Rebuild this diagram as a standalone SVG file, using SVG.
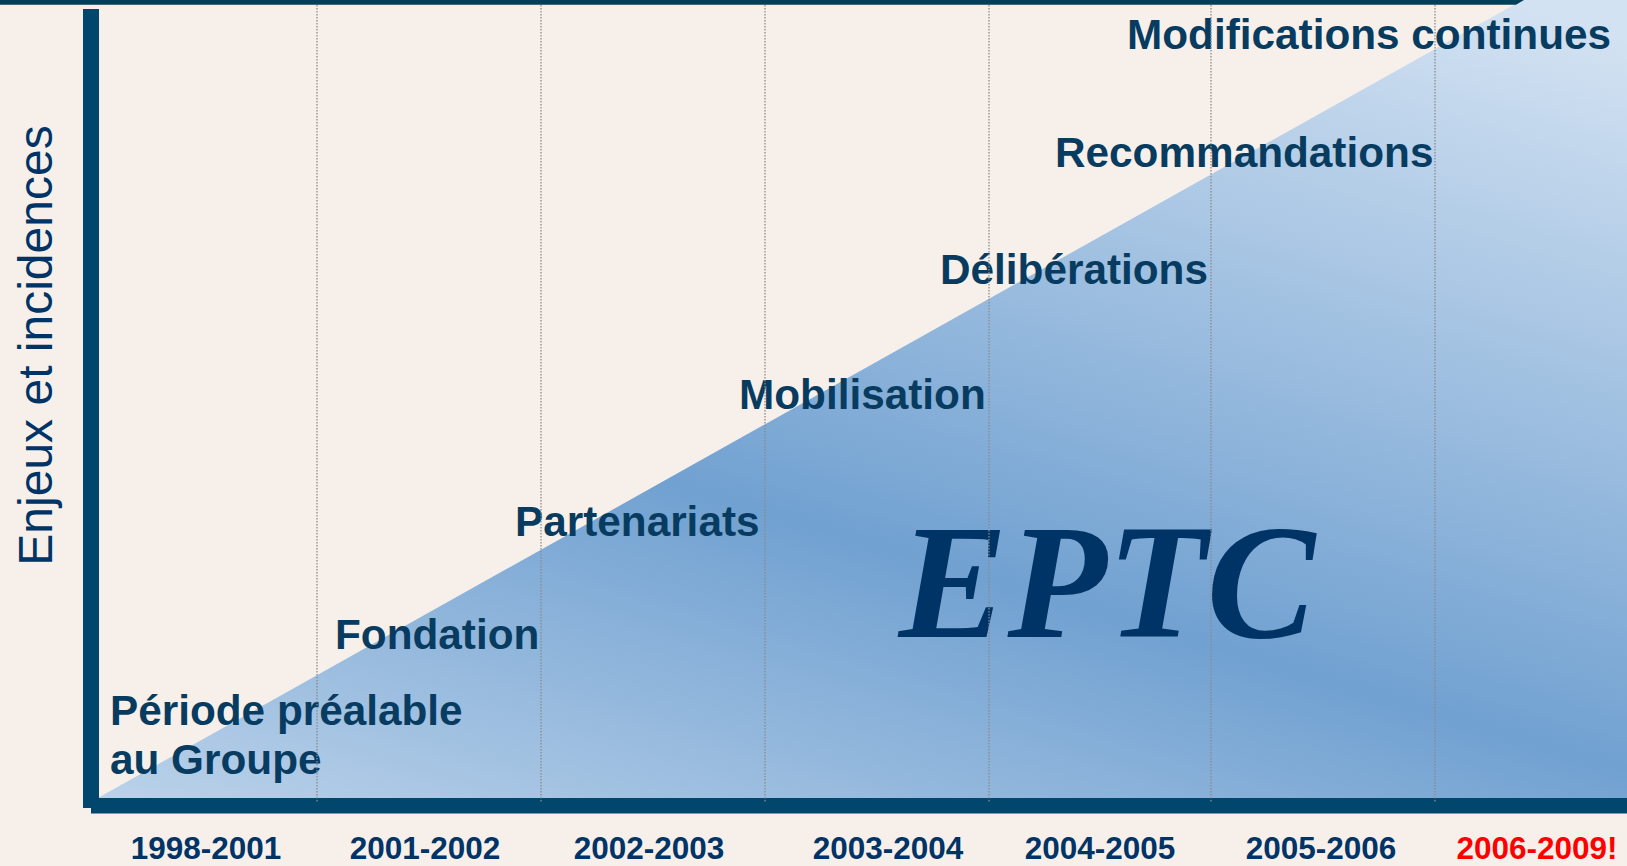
<svg xmlns="http://www.w3.org/2000/svg" width="1627" height="866" viewBox="0 0 1627 866">
<defs>
<linearGradient id="fillGrad" gradientUnits="userSpaceOnUse" x1="1061" y1="-131" x2="659" y2="1211">
<stop offset="0" stop-color="#D3E2F2"/>
<stop offset="0.5" stop-color="#71A1D1"/>
<stop offset="0.93" stop-color="#D0E0F1"/>
<stop offset="1" stop-color="#D0E0F1"/>
</linearGradient>
<style>
.lbl{font-family:"Liberation Sans",Arial,sans-serif;font-weight:bold;font-size:42.3px;fill:#073C60;}
.yr{font-family:"Liberation Sans",Arial,sans-serif;font-weight:bold;font-size:31.5px;fill:#003366;text-anchor:middle;}
.grid{stroke:#8A8A8A;stroke-width:1.3;stroke-dasharray:1.5 1.5;fill:none;}
.bar{fill:#01466D;}
</style>
</defs>
<rect x="0" y="0" width="1627" height="866" fill="#F7F0EA"/>
<g id="area">
<polygon points="96,799 1522.5,0 1627,0 1627,799" fill="url(#fillGrad)"/>
</g>
<g id="axes">
<polygon points="0,0 1524,0 1516,4.7 0,4.7" fill="#033F59"/>
<rect class="bar" x="83" y="9" width="16" height="799"/>
<rect class="bar" x="91" y="798" width="1536" height="15.5"/>
<rect x="91" y="813" width="1536" height="1" fill="#7D9AB0"/>
</g>
<g id="yaxis-label">
<text transform="translate(52,345.5) rotate(-90)" text-anchor="middle" font-family="Liberation Sans, Arial, sans-serif" font-size="48" fill="#003366">Enjeux et incidences</text>
</g>
<g id="stage-modifications"><text class="lbl" x="1127" y="49">Modifications continues</text></g>
<g id="stage-recommandations"><text class="lbl" x="1055" y="167">Recommandations</text></g>
<g id="stage-deliberations"><text class="lbl" x="940" y="284">Délibérations</text></g>
<g id="stage-mobilisation"><text class="lbl" x="739" y="409">Mobilisation</text></g>
<g id="stage-partenariats"><text class="lbl" x="515" y="536">Partenariats</text></g>
<g id="stage-fondation"><text class="lbl" x="335" y="649">Fondation</text></g>
<g id="stage-prealable"><text class="lbl" x="110" y="725">Période préalable</text><text class="lbl" x="110" y="774">au Groupe</text></g>
<g id="eptc"><text x="1107" y="637" text-anchor="middle" font-family="Liberation Serif, 'Times New Roman', serif" font-weight="bold" font-style="italic" font-size="163" fill="#003366">EPTC</text></g>
<g id="years">
<text class="yr" x="206" y="859">1998-2001</text>
<text class="yr" x="425" y="859">2001-2002</text>
<text class="yr" x="649" y="859">2002-2003</text>
<text class="yr" x="888" y="859">2003-2004</text>
<text class="yr" x="1100" y="859">2004-2005</text>
<text class="yr" x="1321" y="859">2005-2006</text>
<text class="yr" x="1537" y="859" style="fill:#FF0000">2006-2009!</text>
</g>
<g id="gridlines">
<line class="grid" x1="317" y1="5" x2="317" y2="803"/>
<line class="grid" x1="541" y1="5" x2="541" y2="803"/>
<line class="grid" x1="765" y1="5" x2="765" y2="803"/>
<line class="grid" x1="989" y1="5" x2="989" y2="803"/>
<line class="grid" x1="1211" y1="5" x2="1211" y2="803"/>
<line class="grid" x1="1435" y1="5" x2="1435" y2="803"/>
</g>
</svg>
